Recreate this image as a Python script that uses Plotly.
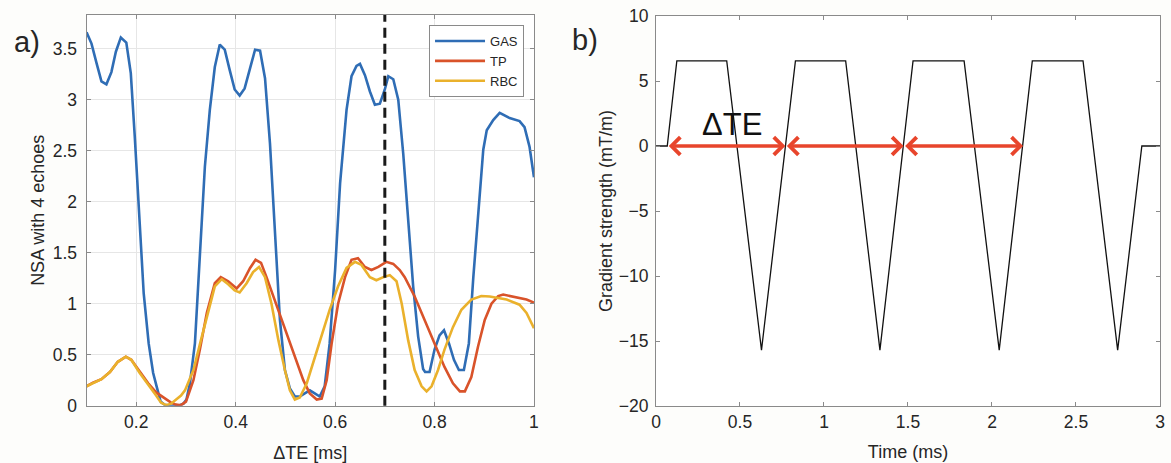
import plotly.graph_objects as go

# ---------------- Panel a) data: NSA vs ΔTE ----------------
gas_x = [0.100, 0.110, 0.120, 0.130, 0.140, 0.150, 0.159, 0.169, 0.180, 0.189, 0.197, 0.2055, 0.215, 0.225,
         0.234, 0.242, 0.249, 0.257, 0.270, 0.285, 0.295, 0.301, 0.308, 0.318, 0.328, 0.338, 0.348, 0.358,
         0.368, 0.378, 0.388, 0.398, 0.408, 0.418, 0.429, 0.439, 0.449, 0.459, 0.469, 0.479, 0.489, 0.499,
         0.509, 0.519, 0.529, 0.539, 0.549, 0.559, 0.569, 0.579, 0.589, 0.600, 0.610, 0.623, 0.633, 0.643,
         0.650, 0.660, 0.670, 0.680, 0.690, 0.700, 0.707, 0.717, 0.727, 0.737, 0.747, 0.757, 0.767, 0.777,
         0.781, 0.790, 0.800, 0.810, 0.819, 0.829, 0.839, 0.849, 0.859, 0.869, 0.878, 0.888, 0.898, 0.905,
         0.918, 0.931, 0.940, 0.951, 0.971, 0.981, 0.991, 1.000]
gas_y = [3.66, 3.55, 3.36, 3.18, 3.15, 3.27, 3.47, 3.61, 3.56, 3.26, 2.64, 1.85, 1.10, 0.61,
         0.32, 0.17, 0.04, 0.01, 0.00, 0.00, 0.02, 0.06, 0.22, 0.61, 1.53, 2.34, 2.90, 3.32,
         3.54, 3.49, 3.29, 3.10, 3.04, 3.11, 3.31, 3.49, 3.48, 3.21, 2.57, 1.66, 0.84, 0.35,
         0.17, 0.09, 0.09, 0.12, 0.15, 0.12, 0.09, 0.19, 0.61, 1.33, 2.18, 2.90, 3.23, 3.33,
         3.35, 3.24, 3.08, 2.95, 2.96, 3.10, 3.23, 3.20, 3.00, 2.47, 1.82, 1.17, 0.68, 0.36,
         0.33, 0.33, 0.55, 0.69, 0.74, 0.61, 0.45, 0.35, 0.35, 0.61, 1.26, 1.92, 2.51, 2.70,
         2.80, 2.87, 2.85, 2.82, 2.79, 2.73, 2.54, 2.24]

tp_x = [0.100, 0.113, 0.130, 0.147, 0.163, 0.179, 0.190, 0.207, 0.224, 0.240, 0.257, 0.270, 0.280, 0.290,
        0.300, 0.315, 0.328, 0.342, 0.358, 0.370, 0.385, 0.402, 0.415, 0.429, 0.440, 0.451, 0.462, 0.476,
        0.492, 0.509, 0.5225, 0.536, 0.549, 0.563, 0.573, 0.583, 0.593, 0.606, 0.620, 0.633, 0.646, 0.660,
        0.673, 0.687, 0.703, 0.717, 0.730, 0.740, 0.760, 0.780, 0.800, 0.820, 0.837, 0.851, 0.861, 0.874,
        0.8875, 0.901, 0.9145, 0.928, 0.938, 0.958, 0.985, 1.000]
tp_y = [0.19, 0.225, 0.26, 0.33, 0.43, 0.48, 0.45, 0.33, 0.22, 0.13, 0.07, 0.03, 0.01, 0.005,
        0.04, 0.25, 0.55, 0.91, 1.20, 1.26, 1.22, 1.15, 1.22, 1.35, 1.43, 1.40, 1.26, 1.07,
        0.84, 0.62, 0.42, 0.25, 0.12, 0.06, 0.07, 0.25, 0.61, 1.00, 1.26, 1.43, 1.445, 1.36,
        1.33, 1.36, 1.41, 1.39, 1.33, 1.26, 1.07, 0.84, 0.61, 0.38, 0.22, 0.14, 0.14, 0.28,
        0.58, 0.84, 1.00, 1.075, 1.09, 1.07, 1.04, 1.01]

rbc_x = [0.100, 0.113, 0.130, 0.147, 0.163, 0.179, 0.190, 0.207, 0.224, 0.240, 0.250, 0.260, 0.270, 0.280,
         0.290, 0.298, 0.315, 0.330, 0.345, 0.358, 0.372, 0.385, 0.398, 0.408, 0.422, 0.435, 0.447, 0.459,
         0.472, 0.486, 0.499, 0.509, 0.519, 0.529, 0.543, 0.556, 0.573, 0.589, 0.606, 0.623, 0.640, 0.653,
         0.670, 0.683, 0.697, 0.710, 0.7235, 0.734, 0.747, 0.760, 0.774, 0.784, 0.794, 0.807, 0.820, 0.837,
         0.854, 0.874, 0.894, 0.911, 0.945, 0.971, 0.985, 1.000]
rbc_y = [0.19, 0.22, 0.26, 0.33, 0.43, 0.48, 0.45, 0.32, 0.20, 0.10, 0.03, 0.005, 0.02, 0.06,
         0.10, 0.15, 0.35, 0.64, 0.94, 1.17, 1.24, 1.19, 1.13, 1.11, 1.20, 1.31, 1.36, 1.26,
         1.00, 0.64, 0.35, 0.15, 0.06, 0.08, 0.22, 0.42, 0.68, 0.94, 1.17, 1.35, 1.41, 1.38,
         1.26, 1.23, 1.26, 1.28, 1.22, 1.00, 0.64, 0.35, 0.19, 0.14, 0.19, 0.35, 0.55, 0.77,
         0.94, 1.04, 1.075, 1.07, 1.04, 0.99, 0.91, 0.76]

chosen_dte = 0.7  # dashed marker line

# ---------------- Panel b) data: gradient waveform ----------------
grad_t = [0.0, 0.067, 0.124, 0.421, 0.628, 0.830, 1.129, 1.333, 1.530, 1.834, 2.043, 2.240, 2.542, 2.748, 2.892, 3.0]
grad_g = [0.0, 0.0, 6.55, 6.55, -15.7, 6.55, 6.55, -15.7, 6.55, 6.55, -15.7, 6.55, 6.55, -15.7, 0.0, 0.0]

# ΔTE arrows (start, end) along the zero line
arrow_start = [0.067, 0.770, 1.474]
arrow_end = [0.770, 1.474, 2.185]

x2_ticks = [0, 0.5, 1, 1.5, 2, 2.5, 3]
x2_labels = ["0", "0.5", "1", "1.5", "2", "2.5", "3"]

FONT = "Liberation Sans, Arial, sans-serif"
TXT = "#262626"
AX = "#8a8a8a"

fig = go.Figure()
fig.add_trace(go.Scatter(x=gas_x, y=gas_y, mode="lines", name="GAS",
                         line=dict(color="#2f6db5", width=2.6), xaxis="x", yaxis="y"))
fig.add_trace(go.Scatter(x=tp_x, y=tp_y, mode="lines", name="TP",
                         line=dict(color="#d9532a", width=2.6), xaxis="x", yaxis="y"))
fig.add_trace(go.Scatter(x=rbc_x, y=rbc_y, mode="lines", name="RBC",
                         line=dict(color="#eab12c", width=2.6), xaxis="x", yaxis="y"))
fig.add_trace(go.Scatter(x=grad_t, y=grad_g, mode="lines", showlegend=False,
                         line=dict(color="#111111", width=1.3), xaxis="x2", yaxis="y2"))

fig.add_shape(type="line", xref="x", yref="y domain", x0=chosen_dte, x1=chosen_dte, y0=0, y1=1,
              line=dict(color="#1a1a1a", width=3, dash="10px,6px"))

common = dict(showline=True, linecolor=AX, linewidth=1, mirror="ticks", ticks="inside",
              ticklen=4, tickcolor=AX, zeroline=False, automargin=False,
              tickfont=dict(family=FONT, size=17.5, color=TXT))
tfont = dict(family=FONT, size=18, color=TXT)

fig.update_layout(
    width=1171, height=463,
    margin=dict(l=0, r=0, t=0, b=0),
    paper_bgcolor="#fdfdfb", plot_bgcolor="white",
    font=dict(family=FONT, color=TXT),
    xaxis=dict(domain=[0.0739, 0.456], range=[0.1, 1], tick0=0, dtick=0.2,
               showgrid=True, gridcolor="#e6e6e6", ticklabeloverflow="allow",
               title=dict(text="ΔTE [ms]", font=tfont, standoff=15),
               **common),
    yaxis=dict(domain=[0.1238, 0.9676], range=[0, 3.83], tick0=0, dtick=0.5,
               showgrid=True, gridcolor="#e6e6e6", ticklabelstandoff=5,
               title=dict(text="NSA with 4 echoes", font=tfont, standoff=3),
               **common),
    xaxis2=dict(domain=[0.5602, 0.9906], range=[0, 3], tickvals=x2_ticks, ticktext=x2_labels,
                anchor="y2", showgrid=False, ticklabeloverflow="allow",
                title=dict(text="Time (ms)", font=tfont, standoff=14),
                **common),
    yaxis2=dict(domain=[0.1231, 0.9654], range=[-20, 10], tick0=0, dtick=5, anchor="x2",
                showgrid=False, ticklabelstandoff=3,
                title=dict(text="Gradient strength (mT/m)", font=tfont, standoff=1),
                **common),
    legend=dict(x=0.4475, y=0.946, xanchor="right", yanchor="top", xref="paper", yref="paper",
                bgcolor="white", bordercolor=AX, borderwidth=1,
                font=dict(family=FONT, size=13, color=TXT), tracegroupgap=0, itemwidth=50),
)

# Panel labels
fig.add_annotation(text="a)", x=0.023, y=0.909, xref="paper", yref="paper", showarrow=False,
                   font=dict(family=FONT, size=29, color=TXT), xanchor="center", yanchor="middle")
fig.add_annotation(text="b)", x=0.4996, y=0.9136, xref="paper", yref="paper", showarrow=False,
                   font=dict(family=FONT, size=29, color=TXT), xanchor="center", yanchor="middle")

# ΔTE label
fig.add_annotation(text="ΔTE", x=0.45, y=1.64, xref="x2", yref="y2", showarrow=False,
                   font=dict(family=FONT, size=31, color="#111111"), xanchor="center", yanchor="middle")

# double-headed red arrows
for s, e in zip(arrow_start, arrow_end):
    fig.add_annotation(x=e, y=0, ax=s, ay=0, xref="x2", yref="y2", axref="x2", ayref="y2",
                       text="", showarrow=True, arrowhead=4, startarrowhead=4, arrowside="end+start",
                       arrowwidth=3.4, arrowsize=1.0, startarrowsize=1.0, arrowcolor="#e8452c")

fig.write_html("out.html", config={"displayModeBar": False},
               post_script="document.body.style.margin='0';document.body.style.overflow='hidden';")
